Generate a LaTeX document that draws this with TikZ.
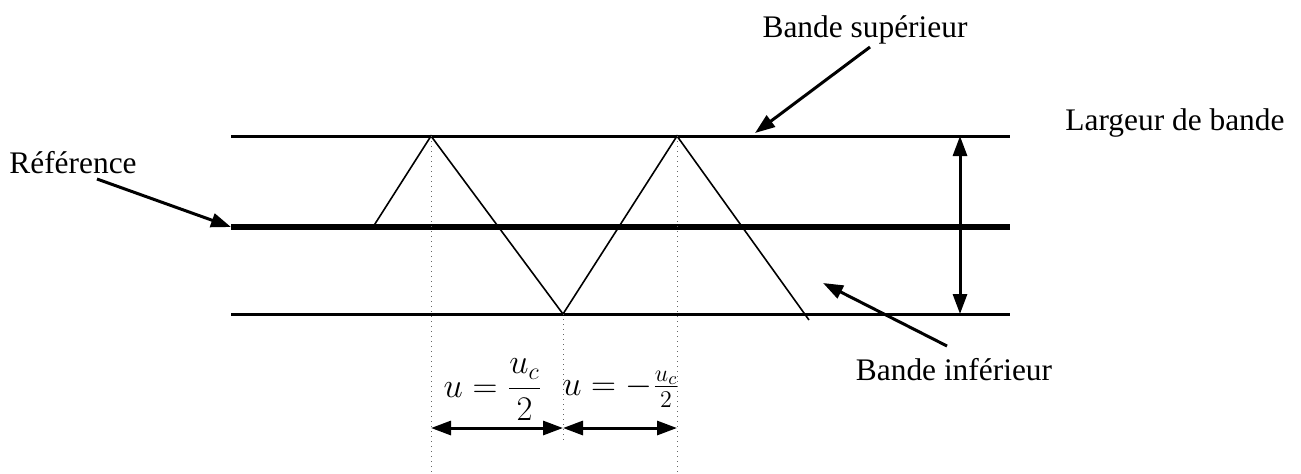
\documentclass[tikz,border=0pt]{standalone}
\usepackage{amsmath}
\usepackage{fontspec}
\setmainfont{Liberation Serif}
\usetikzlibrary{arrows.meta}

\begin{document}
\begin{tikzpicture}[x=0.5pt,y=-0.5pt,>={Triangle[length=10pt,width=7pt]},
    band/.style={line width=1.5pt},
    refline/.style={line width=3pt},
    wave/.style={line width=0.8pt},
    guide/.style={dotted,line width=0.5pt,black!60},
    pointer/.style={->,line width=1.5pt},
    lbl/.style={font=\fontsize{15.7}{18}\selectfont,inner sep=0pt},
    mathlbl/.style={font=\fontsize{18.5}{21}\selectfont,inner sep=0pt}]
    \useasboundingbox (0,0) rectangle (1301,473);

    % bands
    \coordinate (tl) at (231,136);  \coordinate (tr) at (1010,136);
    \coordinate (ml) at (231,227);  \coordinate (mr) at (1010,227);
    \coordinate (bl) at (231,314);  \coordinate (br) at (1010,314);
    \draw[band] (tl) -- (tr);
    \draw[refline] (ml) -- (mr);
    \draw[band] (bl) -- (br);

    % signal
    \coordinate (s0) at (373,227);
    \coordinate (p1) at (431,136);
    \coordinate (v1) at (563,314);
    \coordinate (p2) at (677,136);
    \coordinate (s1) at (809,320);
    \draw[wave] (s0) -- (p1) -- (v1) -- (p2) -- (s1);

    % guides
    \coordinate (g1) at (431,473);
    \coordinate (g2) at (563,443);
    \coordinate (g3) at (677,473);
    \draw[guide] (p1) -- (g1);
    \draw[guide] (v1) -- (g2);
    \draw[guide] (p2) -- (g3);

    % dimensions
    \coordinate (d1) at (431,428);
    \coordinate (d2) at (563,428);
    \coordinate (d3) at (677,428);
    \draw[<->,band] (d1) -- (d2);
    \draw[<->,band] (d2) -- (d3);
    \coordinate (wt) at (960,136);
    \coordinate (wb) at (960,314);
    \draw[<->,band] (wt) -- (wb);

    % labels
    \node[mathlbl] (uplus) at (493,390) {$u=\dfrac{u_c}{2}$};
    \node[mathlbl] (uminus) at (621,389) {$u=-\frac{u_c}{2}$};
    \node[lbl] (ref) at (73,163) {Référence};
    \node[lbl] (sup) at (865,30) {Bande supérieur};
    \node[lbl] (inf) at (954,370) {Bande inférieur};
    \node[lbl] (width) at (1175,123) {Largeur de bande};

    \coordinate (refa) at (97,179);
    \coordinate (supa) at (870,47);
    \coordinate (supb) at (755,133);
    \coordinate (infa) at (947,346);
    \coordinate (infb) at (823,283);
    \draw[pointer] (refa) -- (ml);
    \draw[pointer] (supa) -- (supb);
    \draw[pointer] (infa) -- (infb);
\end{tikzpicture}
\end{document}
